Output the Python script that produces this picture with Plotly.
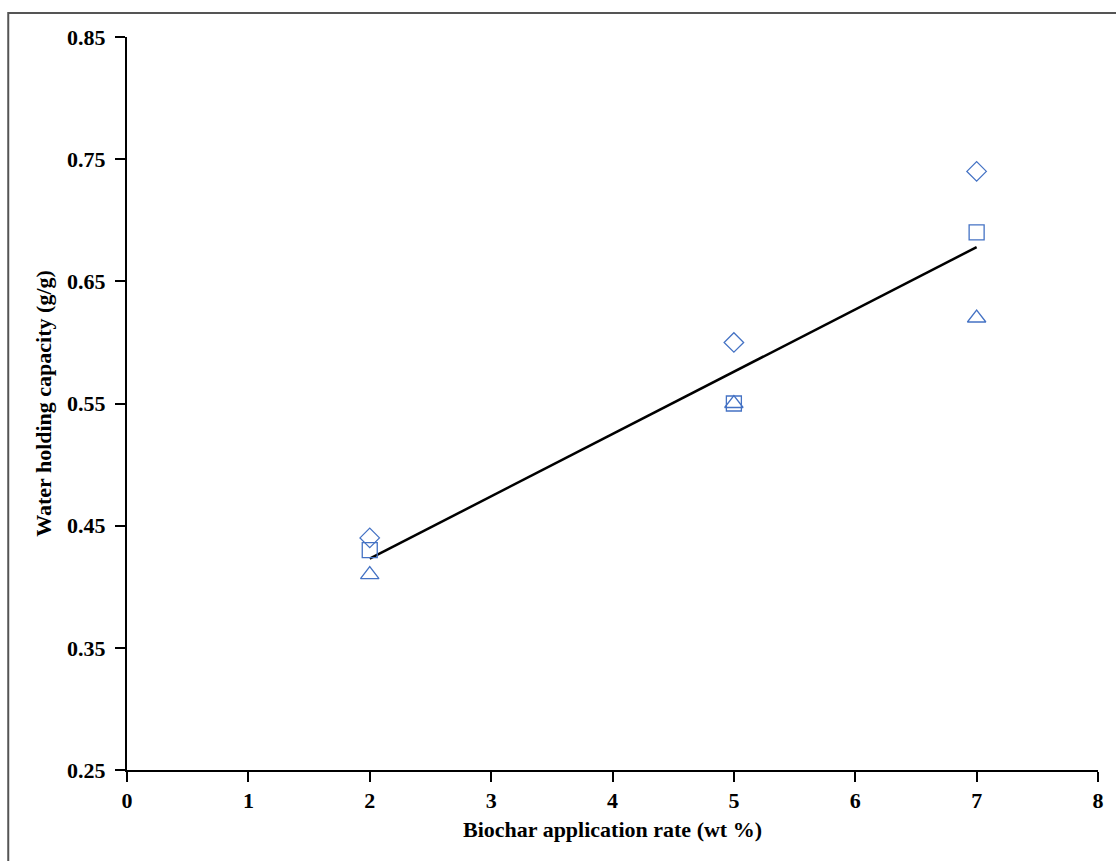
import plotly.graph_objects as go

rates = [2, 5, 7]
wc_diamond = [0.44, 0.60, 0.74]
wc_square = [0.43, 0.55, 0.69]
wc_triangle = [0.41, 0.55, 0.62]
trend_x = [2, 7]
trend_y = [0.423, 0.678]

x_ticks = [0, 1, 2, 3, 4, 5, 6, 7, 8]
y_ticks = [0.25, 0.35, 0.45, 0.55, 0.65, 0.75, 0.85]

blue = "#4472C4"
font_family = "Liberation Serif, Times New Roman, serif"

fig = go.Figure()
fig.add_trace(go.Scatter(x=trend_x, y=trend_y, mode="lines",
                         line=dict(color="black", width=2.5), showlegend=False))
for vals, sym, sz in [(wc_diamond, "diamond-open", 15),
                      (wc_square, "square-open", 15),
                      (wc_triangle, "triangle-up-open", 16)]:
    fig.add_trace(go.Scatter(x=rates, y=vals, mode="markers",
                             marker=dict(symbol=sym, size=sz, color=blue,
                                         line=dict(color=blue, width=1.3)),
                             showlegend=False))

fig.update_layout(
    width=1116, height=861,
    margin=dict(l=127, r=14, t=37, b=91),
    paper_bgcolor="white", plot_bgcolor="white",
    font=dict(family=font_family, color="black"),
    xaxis=dict(range=[0, 8], tickvals=x_ticks, ticks="outside", ticklen=10,
               tickwidth=2, tickcolor="black", showline=True, linecolor="black",
               linewidth=2, showgrid=False, zeroline=False,
               tickfont=dict(size=22, family=font_family, weight="bold"),
               title=dict(text="<b>Biochar application rate (wt %)</b>",
                          font=dict(size=22, family=font_family), standoff=9)),
    yaxis=dict(range=[0.25, 0.85], tickvals=y_ticks, tickformat=".2f",
               ticks="outside", ticklen=10, tickwidth=2, tickcolor="black",
               showline=True, linecolor="black", linewidth=2, showgrid=False,
               zeroline=False,
               tickfont=dict(size=22, family=font_family, weight="bold"),
               ticklabelstandoff=5,
               title=dict(text="<b>Water holding capacity (g/g)</b>",
                          font=dict(size=22, family=font_family), standoff=9)),
    shapes=[dict(type="rect", xref="paper", yref="paper",
                 x0=-0.1223, x1=1.2, y0=-0.3, y1=1.0328,
                 line=dict(color="#555555", width=2), layer="below")],
)

fig.write_html("out.html",
               config={"displayModeBar": False},
               post_script="document.body.style.margin='0';"
                           "document.body.style.overflow='hidden';")
